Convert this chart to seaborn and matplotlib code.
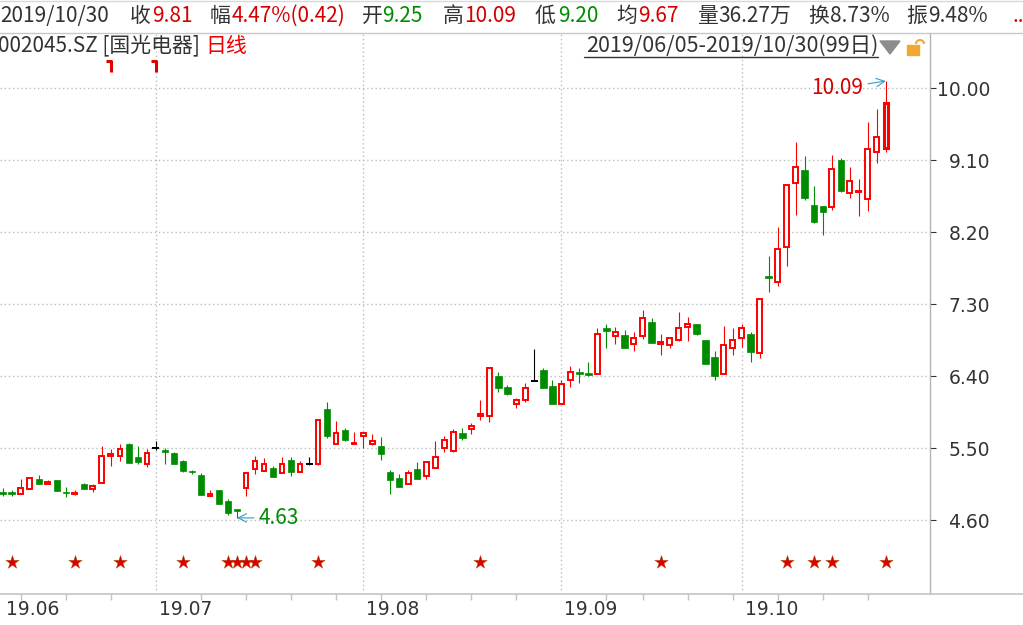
import matplotlib
matplotlib.use("Agg")
import matplotlib.pyplot as plt
import matplotlib.patches as mpatches
from matplotlib.lines import Line2D
from matplotlib.transforms import blended_transform_factory, offset_copy
import numpy as np
import pandas as pd
import seaborn as sns

# ------------------------------------------------------------------
# Data: 002045.SZ daily bars, 2019/06/05 - 2019/10/30 (99 days)
# ------------------------------------------------------------------
opens = [4.95, 4.96, 4.93, 4.99, 5.12, 5.06, 5.10, 4.96, 4.93, 5.06,
         4.99, 5.07, 5.41, 5.40, 5.56, 5.39, 5.30, 5.50, 5.48, 5.44,
         5.34, 5.22, 5.17, 4.91, 4.98, 4.84, 4.73, 5.00, 5.24, 5.22,
         5.26, 5.19, 5.35, 5.20, 5.31, 5.31, 5.99, 5.55, 5.73, 5.55,
         5.65, 5.55, 5.53, 5.20, 5.13, 5.06, 5.24, 5.16, 5.26, 5.50,
         5.47, 5.69, 5.74, 5.90, 5.91, 6.40, 6.27, 6.06, 6.10, 6.34,
         6.48, 6.28, 6.05, 6.35, 6.45, 6.43, 6.43, 7.00, 6.91, 6.92,
         6.81, 6.91, 7.08, 6.81, 6.79, 6.86, 7.02, 7.05, 6.85, 6.64,
         6.43, 6.75, 6.88, 6.93, 6.69, 7.65, 7.58, 8.01, 8.81, 8.98,
         8.54, 8.53, 8.51, 9.10, 8.69, 8.70, 8.61, 9.20, 9.25]
highs = [5.00, 4.98, 5.12, 5.14, 5.17, 5.11, 5.11, 5.02, 4.98, 5.07,
         5.06, 5.53, 5.49, 5.56, 5.57, 5.53, 5.49, 5.59, 5.50, 5.45,
         5.35, 5.23, 5.19, 4.98, 4.98, 4.87, 4.73, 5.19, 5.41, 5.38,
         5.28, 5.39, 5.39, 5.34, 5.39, 5.86, 6.08, 5.84, 5.76, 5.70,
         5.69, 5.68, 5.64, 5.23, 5.18, 5.23, 5.33, 5.33, 5.59, 5.65,
         5.74, 5.76, 5.82, 6.10, 6.51, 6.45, 6.29, 6.13, 6.32, 6.74,
         6.51, 6.35, 6.35, 6.53, 6.51, 6.58, 7.00, 7.05, 7.02, 6.98,
         6.95, 7.23, 7.13, 6.93, 6.88, 7.20, 7.14, 7.05, 6.85, 6.72,
         7.03, 7.00, 7.05, 6.95, 7.36, 7.90, 8.27, 8.79, 9.33, 9.15,
         8.78, 8.53, 9.17, 9.13, 9.02, 8.86, 9.58, 9.74, 10.09]
lows = [4.91, 4.90, 4.93, 4.99, 5.06, 5.05, 4.97, 4.89, 4.92, 4.99,
        4.96, 5.07, 5.28, 5.34, 5.32, 5.31, 5.27, 5.48, 5.30, 5.30,
        5.20, 5.18, 4.92, 4.91, 4.80, 4.67, 4.63, 4.90, 5.18, 5.22,
        5.14, 5.19, 5.15, 5.20, 5.29, 5.29, 5.63, 5.55, 5.59, 5.55,
        5.50, 5.54, 5.35, 4.93, 5.02, 5.06, 5.12, 5.12, 5.26, 5.46,
        5.45, 5.60, 5.68, 5.85, 5.83, 6.21, 6.17, 6.00, 6.08, 6.34,
        6.25, 6.05, 6.05, 6.27, 6.32, 6.40, 6.43, 6.76, 6.80, 6.75,
        6.72, 6.87, 6.82, 6.67, 6.76, 6.84, 6.84, 6.92, 6.56, 6.35,
        6.43, 6.67, 6.77, 6.58, 6.63, 7.45, 7.53, 7.78, 8.42, 8.60,
        8.32, 8.16, 8.48, 8.70, 8.63, 8.40, 8.46, 9.07, 9.20]
closes = [4.93, 4.93, 5.00, 5.13, 5.06, 5.08, 4.97, 4.94, 4.94, 4.99,
          5.03, 5.40, 5.43, 5.49, 5.32, 5.33, 5.44, 5.50, 5.45, 5.31,
          5.22, 5.20, 4.92, 4.93, 4.80, 4.69, 4.72, 5.19, 5.34, 5.30,
          5.14, 5.30, 5.20, 5.31, 5.31, 5.86, 5.65, 5.69, 5.60, 5.56,
          5.69, 5.59, 5.43, 5.10, 5.02, 5.19, 5.12, 5.33, 5.39, 5.61,
          5.71, 5.63, 5.78, 5.93, 6.51, 6.26, 6.18, 6.10, 6.25, 6.34,
          6.25, 6.05, 6.30, 6.45, 6.43, 6.42, 6.93, 6.97, 6.95, 6.76,
          6.88, 7.13, 6.82, 6.83, 6.88, 7.00, 7.05, 6.93, 6.56, 6.40,
          6.79, 6.85, 7.01, 6.71, 7.36, 7.63, 7.99, 8.79, 9.01, 8.63,
          8.33, 8.45, 8.99, 8.71, 8.84, 8.72, 9.24, 9.39, 9.81]

star_days = [1, 8, 13, 20, 25, 26, 27, 28, 35, 53, 73, 87, 90, 92, 98]
flag_days = [12, 17]
month_days = [0, 17, 40, 62, 82]
month_labels = ["19.06", "19.07", "19.08", "19.09", "19.10"]
week_days = [2, 7, 12, 22, 27, 32, 37, 42, 47, 52, 57, 67, 71, 76, 81,
             86, 91, 96]
price_ticks = [4.60, 5.50, 6.40, 7.30, 8.20, 9.10, 10.00]

header_items = [
    ("2019/10/30", "dark"), ("收", "dark"), ("9.81", "red"),
    ("幅", "dark"), ("4.47%(0.42)", "red"), ("开", "dark"),
    ("9.25", "green"), ("高", "dark"), ("10.09", "red"),
    ("低", "dark"), ("9.20", "green"), ("均", "dark"), ("9.67", "red"),
    ("量", "dark"), ("36.27万", "dark"), ("换", "dark"),
    ("8.73%", "dark"), ("振", "dark"), ("9.48%", "dark"), ("..", "red"),
]
header_x = [0, 130, 152, 210, 232, 362, 382, 443, 464, 535, 558, 616,
            638, 697, 718, 808, 830, 906, 928, 1012]

RED = "#ff0000"
TXT_RED = "#d40000"
GREEN = "#008c00"
DARK = "#333333"
GRID = "#bdbdbd"
TXT = {"dark": DARK, "red": TXT_RED, "green": GREEN}
FS = 15

sns.set_theme(style="white")
plt.rcParams["font.family"] = ["Noto Sans CJK SC", "DejaVu Sans"]

W, H = 1023, 625
fig = plt.figure(figsize=(W / 100, H / 100), dpi=100)
fig.patch.set_facecolor("white")


def fx(px):
    return px / W


def fy(py):
    return 1 - py / H


ax = fig.add_axes([0, fy(594), fx(930), (594 - 33) / H])
ax.set_facecolor("white")

df = pd.DataFrame({"day": np.arange(len(opens)), "open": opens,
                   "high": highs, "low": lows, "close": closes})
df["kind"] = np.where(df["close"] > df["open"], "up",
                      np.where(df["close"] < df["open"], "down", "flat"))
df["color"] = df["kind"].map({"up": RED, "down": GREEN, "flat": "black"})

# wicks
ax.vlines(df["day"], df["low"], df["high"], colors=df["color"],
          lw=0.8, zorder=2)

# bodies
up = df[df["kind"] == "up"]
last = df["day"].max()
for _, r in up.iterrows():
    h = max(r["close"] - r["open"], 0.015)
    lw = 2.2 if r["day"] == last else 1.4
    ax.bar(r["day"], h, bottom=r["open"], width=0.52, facecolor="white",
           edgecolor=RED, linewidth=lw, zorder=3)
down = df[df["kind"] == "down"]
ax.bar(down["day"], np.maximum(down["open"] - down["close"], 0.02),
       bottom=down["close"], width=0.72, color=GREEN, edgecolor=GREEN,
       linewidth=0.5, zorder=3)
flat = df[df["kind"] == "flat"]
ax.hlines(flat["open"], flat["day"] - 0.38, flat["day"] + 0.38,
          colors="black", lw=1.4, zorder=3)

ax.set_xlim(-0.3, 102.9)
ax.set_ylim(3.679, 10.691)

# grid
for p in price_ticks:
    ax.axhline(p, color=GRID, lw=1, ls=(0, (1, 2)), zorder=1)
for d in month_days[1:]:
    ax.axvline(d, color=GRID, lw=1, ls=(0, (1, 2)), zorder=1)

# stars
bt = blended_transform_factory(ax.transData, ax.transAxes)
stars = pd.DataFrame({"day": star_days, "pos": [0.0565] * len(star_days)})
sns.scatterplot(data=stars, x="day", y="pos", ax=ax, marker="*", s=105,
                color="#dd0000", edgecolor="#a06010", linewidth=0.3,
                transform=bt, zorder=4, clip_on=False, legend=False)

# little red flags near the top
for d in flag_days:
    ax.plot([d - 0.55, d, d], [0.95, 0.95, 0.93], color="#e00000",
            lw=2.2, transform=bt, solid_capstyle="butt", clip_on=False)

# high / low annotations
ax.annotate("10.09", xy=(98, 10.09), xytext=(95.5, 10.0),
            ha="right", va="center", fontsize=FS, color=TXT_RED,
            arrowprops=dict(arrowstyle="->", color="#3a9ac4", lw=0.8,
                            shrinkA=1, shrinkB=0))
ax.annotate("4.63", xy=(26, 4.63), xytext=(28.4, 4.63),
            ha="left", va="center", fontsize=FS, color=GREEN,
            arrowprops=dict(arrowstyle="->", color="#3a9ac4", lw=0.8,
                            shrinkA=1, shrinkB=0))

# axes: right price scale
for s in ["left", "top"]:
    ax.spines[s].set_visible(False)
ax.spines["right"].set_color("#b4b4b4")
ax.spines["bottom"].set_color("#c4c4c4")
ax.spines["right"].set_linewidth(1)
ax.spines["bottom"].set_linewidth(1.2)
ax.yaxis.tick_right()
ax.set_yticks(price_ticks)
ax.set_yticklabels([f"{p:.2f}" for p in price_ticks])
ax.tick_params(axis="y", length=4.3, width=0.8, color=DARK, pad=38.9,
               labelsize=14, labelcolor=DARK)
for t in ax.get_yticklabels():
    t.set_ha("right")
    t.set_family(["DejaVu Sans"])
    t.set_fontsize(13.5)

# month ticks
ax.set_xticks(month_days)
ax.set_xticklabels([])
ax.set_xticks(week_days, minor=True)
ax.tick_params(axis="x", which="major", length=22.5, width=1,
               color="#c4c4c4", direction="out")
ax.tick_params(axis="x", which="minor", length=4.3, width=1,
               color="#c4c4c4", direction="out", bottom=True)
lab_tr = offset_copy(bt, fig=fig, x=3, y=0, units="dots")
for d, lab in zip(month_days, month_labels):
    ax.text(d, -0.027, lab, transform=lab_tr, ha="left", va="center",
            fontsize=13.5, color=DARK, family=["DejaVu Sans"])
ax.set_xlabel("")
ax.set_ylabel("")

# frame lines outside the axes
fig.add_artist(Line2D([fx(930), 1], [fy(594), fy(594)], color="#c4c4c4",
                      lw=1.2))
fig.add_artist(Line2D([0, 1], [fy(33), fy(33)], color="#c8c8c8", lw=1))
fig.add_artist(Line2D([0, 1], [fy(1), fy(1)], color="#d8d8d8", lw=1))

# header row
for (s, c), x in zip(header_items, header_x):
    fig.text(fx(x), fy(16), s, ha="left", va="center", fontsize=FS,
             color=TXT[c])

# second row
fig.text(fx(-2), fy(46), "002045.SZ [国光电器]", ha="left", va="center",
         fontsize=FS, color=DARK)
fig.text(fx(205), fy(46), "日线", ha="left", va="center", fontsize=FS,
         color="#ee0000")
fig.text(fx(878), fy(46), "2019/06/05-2019/10/30(99日)", ha="right",
         va="center", fontsize=FS + 0.5, color=DARK)
fig.add_artist(Line2D([fx(584), fx(878)], [fy(57), fy(57)], color=DARK,
                      lw=1))
fig.add_artist(mpatches.Polygon([[fx(880), fy(41)], [fx(900), fy(41)],
                                 [fx(890), fy(54)]], closed=True,
                                color="#8c8c8c"))
fig.add_artist(mpatches.Rectangle((fx(907), fy(55)), fx(12), 10 / H,
                                  color="#f0a830"))
fig.add_artist(mpatches.Arc((fx(920), fy(44)), fx(8), 8 / H,
                            theta1=0, theta2=180, color="#f0a830", lw=1.5))

fig.savefig("out.png", dpi=100, facecolor="white")
